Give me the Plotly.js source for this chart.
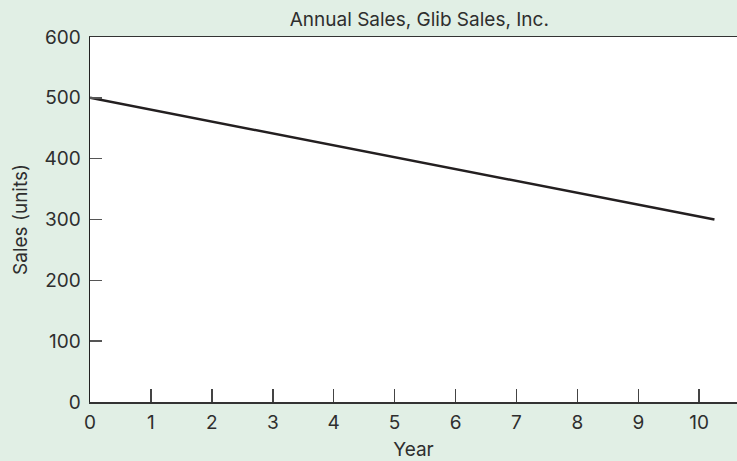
<!DOCTYPE html>
<html>
<head>
<meta charset="utf-8">
<script src="https://cdn.plot.ly/plotly-3.0.1.min.js"></script>
<style>html,body{margin:0;padding:0;background:#e1efe5;}#chart{width:737px;height:461px;}</style>
</head>
<body>
<div id="chart"></div>
<script>
const years = [0, 10.25];
const sales = [500, 300];
const xTicks = [0, 1, 2, 3, 4, 5, 6, 7, 8, 9, 10];
const yTicks = [0, 100, 200, 300, 400, 500, 600];

const trace = {
  x: years, y: sales, type: 'scatter', mode: 'lines',
  line: {color: '#231f20', width: 2.5}, hoverinfo: 'skip'
};
const layout = {
  width: 737, height: 461,
  margin: {l: 90, r: 0, t: 37, b: 59},
  paper_bgcolor: '#e1efe5', plot_bgcolor: '#ffffff',
  font: {family: 'Inter, "Open Sans", sans-serif', size: 19, color: '#2e2e2e'},
  title: {text: 'Annual Sales, Glib Sales, Inc.', font: {size: 19, color: '#2e2e2e'}, xref: 'paper', x: 0.509, xanchor: 'center', yref: 'container', y: 0.959, yanchor: 'middle'},
  showlegend: false,
  xaxis: {
    range: [0, 10.62], tickvals: xTicks, ticktext: xTicks.map(String),
    ticks: 'inside', ticklen: 13, tickwidth: 1.5, tickcolor: '#444',
    showline: true, linecolor: '#333', linewidth: 1.5, mirror: true,
    showgrid: false, zeroline: false, ticklabelstandoff: 3,
    title: {text: 'Year', font: {size: 19}, standoff: 10},
    tickfont: {size: 19}
  },
  yaxis: {
    range: [0, 600], tickvals: yTicks, ticktext: yTicks.map(String),
    ticks: 'inside', ticklen: 12, tickwidth: 1.5, tickcolor: '#555',
    showline: true, linecolor: '#222', linewidth: 1.5,
    showgrid: false, zeroline: false, ticklabelstandoff: 4,
    title: {text: 'Sales (units)', font: {size: 19}, standoff: 12},
    tickfont: {size: 19}
  }
};
Plotly.newPlot('chart', [trace], layout, {staticPlot: true, displayModeBar: false});
</script>
</body>
</html>
